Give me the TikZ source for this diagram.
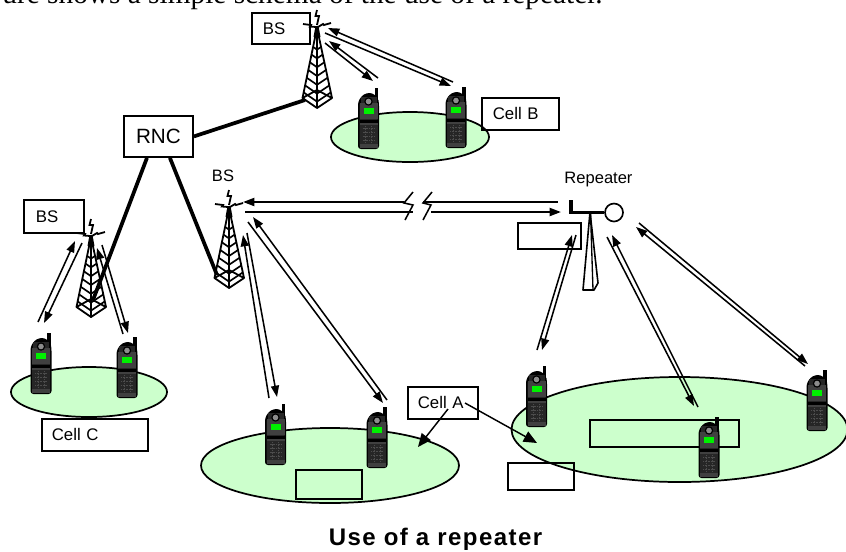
\documentclass[tikz,border=0pt]{standalone}
\usepackage{fontspec}
\setmainfont{Liberation Sans}
\newfontfamily\serifface{Liberation Serif}
\usetikzlibrary{arrows.meta,shapes.geometric}
\definecolor{cellgreen}{HTML}{CCFFCC}
\definecolor{phonedark}{HTML}{262626}
\definecolor{phonegray}{HTML}{404040}
\definecolor{screengreen}{HTML}{00F000}
\newcommand{\radiopair}[5]{%
  \coordinate (#1a) at #2; \coordinate (#1b) at #3;
  \coordinate (#1c) at #4; \coordinate (#1d) at #5;
  \draw[radio] (#1b) -- (#1a);
  \draw[radio] (#1c) -- (#1d);
}
\tikzset{
  x=0.75pt,y=-0.75pt,
  cellarea/.style n args={2}{ellipse,draw=black,fill=cellgreen,line width=1.3pt,inner sep=0pt,
     minimum width=#1*0.75pt,minimum height=#2*0.75pt},
  labelbox/.style n args={3}{draw=black,line width=1.25pt,anchor=north west,
     minimum width=#1*0.75pt,minimum height=#2*0.75pt,
     text width={(#1-2*#3)*0.75pt},inner xsep=#3*0.75pt,inner ysep=0pt,align=left,
     font=\fontsize{12.6}{14}\selectfont},
  plainlabel/.style={inner sep=0pt,font=\fontsize{12.4}{14}\selectfont},
  radio/.style={line width=1.15pt,-{Triangle[length=8.5pt,width=6pt]}},
  backhaul/.style={line width=2.8pt},
  callout/.style={line width=1.1pt,-{Triangle[length=10pt,width=8.5pt]}},
  thinline/.style={line width=1.15pt},
  longline/.style={line width=1.5pt},
  tower/.pic={
    \draw[line width=1.35pt,line join=round] (0,0)--(-14.5,70)--(0,80)--(15,70)--cycle (0,0)--(0,80)
      (-14.5,70)--(0,62)--(15,70);
    \foreach \ff in {.27,.38,.49,.6,.71,.82,.92}{
      \draw[line width=1.25pt] (-14.5*\ff,70*\ff)--(0,80*\ff)--(15*\ff,70*\ff);
    }
    \fill (-3.5,9)--(-1.5,-2)--(1.5,-2)--(3.5,9)--cycle;
    \draw[line width=1.35pt] (-14,-4)--(-6,-3)--(-7,-1.5)--(-1,-1);
    \draw[line width=1.35pt] (1,-1)--(6,-4)--(7,-3)--(14,-5);
    \draw[line width=1.35pt] (0,-18)--(-1.5,-12)--(2,-12)--(0,-3);
  },
  handset/.pic={
    \fill[black] (6.2,-61) rectangle (9.8,-46);
    \fill[black,rounded corners=2.2pt] (-10.5,0)--(-10.5,-47)--(-7,-53)--(-2,-56)--(4,-56)--(9.5,-51)--(10.5,-46)--(10.5,0)--cycle;
    \fill[phonedark,rounded corners=1.5pt] (-9,-1.5) rectangle (9,-46);
    \fill[phonegray] (-9,-46) rectangle (9,-30);
    \fill[screengreen] (-5,-41) rectangle (5,-35);
    \fill[phonedark] (-8,-52) rectangle (8,-46);
    \fill[black] (0,-47.5) circle (4.2);
    \fill[gray!90] (0,-47.5) circle (2.8);
    \fill[black] (-9,-29) rectangle (9,-26);
    \fill[phonegray] (-9,-26) rectangle (9,-24);
    \fill[phonedark] (-9,-24) rectangle (9,-5);
    \foreach \yy in {-21,-17,-13,-9}{\draw[gray!60!black,line width=.2pt,densely dotted] (-6,\yy)--(6,\yy);}
    \foreach \xx in {-3,3}{\draw[gray!60!black,line width=.2pt,densely dotted] (\xx,-23)--(\xx,-6);}
    \fill[phonegray] (-9,-5) rectangle (9,-1.5);
  }
}
\begin{document}
\begin{tikzpicture}
\useasboundingbox (0,0) rectangle (846,551);
\clip (0,0) rectangle (846,551);
% heading fragment
\node[anchor=base east,inner sep=0pt,font=\serifface\fontsize{22}{26}\selectfont] (heading) at (603,3) {ure shows a simple schema of the use of a repeater.};
% cells
\node[cellarea={158}{50}] (cellb) at (410,137) {};
\node[cellarea={156}{50}] (cellc) at (89,392) {};
\node[cellarea={258}{75}] (cella) at (330,465.5) {};
\node[cellarea={336}{105}] (cellr) at (679.5,429.5) {};
% boxes
\node[labelbox={58}{31}{11}] (bsb) at (251,12) {BS};
\node[labelbox={77}{32}{11}] (boxcellb) at (481,97) {Cell B};
\node[labelbox={60}{33}{12}] (bsc) at (23,199) {BS};
\node[labelbox={106}{32}{10}] (boxcellc) at (41,418) {Cell C};
\node[labelbox={70}{32}{10}] (boxcella) at (407,386) {Cell A};
\node[labelbox={66}{29}{1}] (emptya) at (295,469) {};
\node[labelbox={66}{27}{1}] (emptyb) at (507,462) {};
\node[labelbox={149}{27}{1}] (emptyc) at (589,419) {};
\node[labelbox={63}{26}{1}] (emptyd) at (517,222) {};
% towers
\coordinate (footb) at (305,100);
\coordinate (footc) at (93,300);
\coordinate (foota) at (217,275);
\pic at (317,28) {tower};
\pic at (91,237) {tower};
\pic at (229,208) {tower};
% RNC
\node[draw=black,line width=1.4pt,anchor=north west,minimum width=51.75pt,minimum height=30.75pt,inner sep=0pt,font=\fontsize{15.5}{17}\selectfont] (rnc) at (123,115) {RNC};
\draw[backhaul] (rnc.east) -- (footb);
\draw[backhaul] ([xshift=-8.6pt]rnc.south) -- (footc);
\draw[backhaul] ([xshift=8.6pt]rnc.south) -- (foota);
% free labels
\node[plainlabel] (bsa) at (223,176) {BS};
\node[plainlabel] (replabel) at (598.5,180) {Repeater};
% phones
\foreach \px/\py in {368.5/149,456/148,41/394,127/398,275.5/465,377/468,536.5/427,709/478,817/431}{
  \pic at (\px,\py) {handset};
}
% radio links
\radiopair{bb1}{(329,41)}{(378,78)}{(325,43)}{(373,81)}
\radiopair{bb2}{(328,28)}{(453,82)}{(325,33)}{(451,86)}
\radiopair{cc1}{(75,241)}{(38,322)}{(82,243)}{(44,323)}
\radiopair{cc2}{(97,248)}{(123,334)}{(102,245)}{(128,333)}
\radiopair{aa1}{(243,235)}{(269,398)}{(247,233)}{(277,397)}
\radiopair{aa2}{(253,217)}{(387,400)}{(248,222)}{(383,403)}
\radiopair{rr1}{(572,235)}{(537,350)}{(576,235)}{(542,350)}
\radiopair{rr2}{(612,235)}{(698,407)}{(607,237)}{(694,406)}
\radiopair{rr3}{(636,227)}{(805,366)}{(639,223)}{(808,364)}
% long link with break
\coordinate (la) at (243,202); \coordinate (lb) at (404,202);
\coordinate (lc) at (423,202); \coordinate (ld) at (558,202);
\coordinate (le) at (245,212); \coordinate (lf) at (413,212);
\coordinate (lg) at (431,212); \coordinate (lh) at (561,212);
\draw[radio,longline] (lb) -- (la);
\draw[longline] (lc) -- (ld);
\draw[longline] (le) -- (lf);
\draw[radio,longline] (lg) -- (lh);
\draw[thinline] (413,192)--(404,203)--(413,205)--(405,220);
\draw[thinline] (432,192)--(423,203)--(431,205)--(423,220);
% repeater
\node[draw=black,circle,line width=1.25pt,minimum size=13.5pt,inner sep=0pt] (dish) at (614,212.5) {};
\coordinate (replug) at (571,200);
\coordinate (repbend) at (571,212.5);
\draw[line width=2.4pt,line join=miter] (replug) -- (repbend) -- (dish.west);
\draw[line width=1.2pt,line join=round] (590,212)--(583,290)--(594,290)--(598,283)--cycle;
\draw[line width=1pt] (590.5,212)--(593,290);
% callouts
\coordinate (tocella) at (418,447);
\coordinate (tocellr) at (537,443);
\coordinate (fromcella) at (448,409);
\coordinate (fromcellb) at (465,403);
\draw[callout] (fromcella) -- (tocella);
\draw[callout] (fromcellb) -- (tocellr);
% caption
\node[anchor=center,inner sep=0pt,font=\bfseries\fontsize{18}{21}\selectfont] (caption) at (435.5,539) {\addfontfeatures{LetterSpace=6}Use of a repeater};
\end{tikzpicture}
\end{document}
